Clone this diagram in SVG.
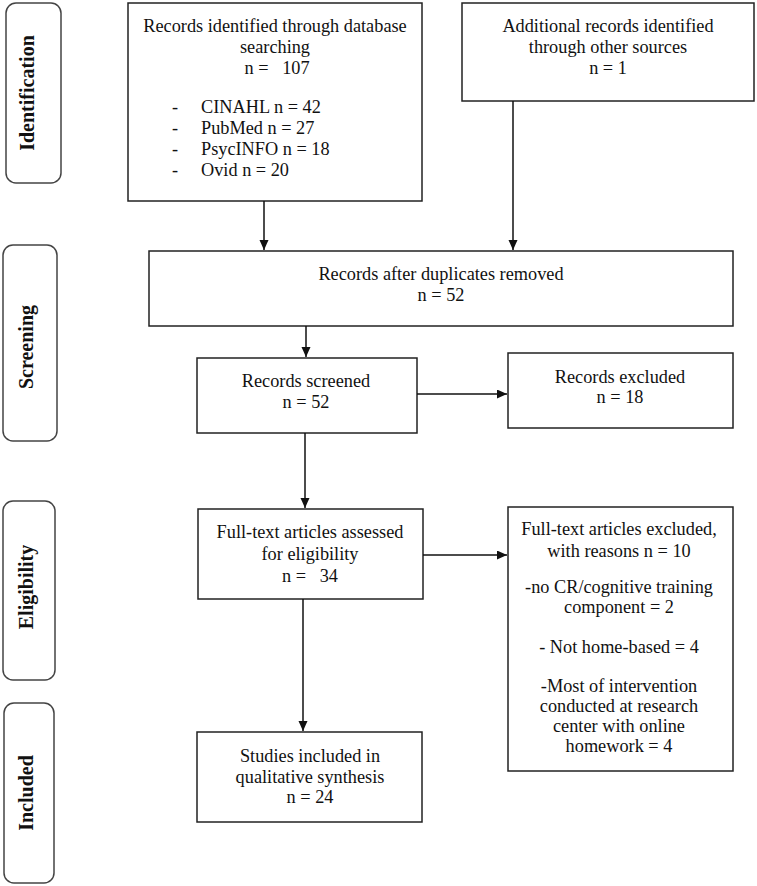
<svg xmlns="http://www.w3.org/2000/svg" width="757" height="886" viewBox="0 0 757 886">
<style>
.box{fill:#fff;stroke:#222;stroke-width:1.5}
.side{fill:#fff;stroke:#444;stroke-width:1.5}
.t{font-family:"Liberation Serif","Times New Roman",serif;font-size:18.3px;fill:#111;text-anchor:middle}
.tl{font-family:"Liberation Serif","Times New Roman",serif;font-size:18.3px;fill:#111}
.s{font-family:"Liberation Serif","Times New Roman",serif;font-size:20px;font-weight:bold;fill:#111;text-anchor:middle}
.c{stroke:#111;stroke-width:1.5;fill:none;marker-end:url(#ah)}
</style>
<defs>
<marker id="ah" markerWidth="11" markerHeight="10" refX="10" refY="4.5" orient="auto" markerUnits="userSpaceOnUse">
<path d="M0,0 L10,4.5 L0,9 Z" fill="#111"/>
</marker>
</defs>
<rect width="757" height="886" fill="#fff"/>
<g id="phase-identification"><rect class="side" x="6" y="3" width="55" height="180" rx="10"/><text class="s" transform="translate(34,93) rotate(-90)">Identification</text></g>
<g id="phase-screening"><rect class="side" x="3" y="245" width="54" height="196" rx="10"/><text class="s" transform="translate(33,347) rotate(-90)">Screening</text></g>
<g id="phase-eligibility"><rect class="side" x="3" y="501" width="52" height="179" rx="10"/><text class="s" transform="translate(33,587) rotate(-90)">Eligibility</text></g>
<g id="phase-included"><rect class="side" x="4" y="703" width="50" height="180" rx="10"/><text class="s" transform="translate(33,793) rotate(-90)">Included</text></g>

<g id="db-records"><rect class="box" x="128" y="3" width="294" height="198"/>
<text class="t" x="275" y="32">Records identified through database</text>
<text class="t" x="275" y="53">searching</text>
<text class="t" x="277" y="74" xml:space="preserve">n =   107</text>
<text class="tl" x="172" y="113">-</text><text class="tl" x="201" y="113">CINAHL n = 42</text>
<text class="tl" x="172" y="134">-</text><text class="tl" x="201" y="134">PubMed n = 27</text>
<text class="tl" x="172" y="155">-</text><text class="tl" x="201" y="155">PsycINFO n = 18</text>
<text class="tl" x="172" y="176">-</text><text class="tl" x="201" y="176">Ovid n = 20</text>
</g>
<g id="other-records"><rect class="box" x="462" y="3" width="292" height="98"/>
<text class="t" x="608" y="32">Additional records identified</text>
<text class="t" x="608" y="53">through other sources</text>
<text class="t" x="608" y="74">n = 1</text>
</g>
<g id="after-duplicates"><rect class="box" x="149" y="251" width="584" height="75"/>
<text class="t" x="441" y="280">Records after duplicates removed</text>
<text class="t" x="441" y="301">n = 52</text>
</g>
<g id="screened"><rect class="box" x="197" y="358" width="220" height="75"/>
<text class="t" x="306" y="387">Records screened</text>
<text class="t" x="306" y="408">n = 52</text>
</g>
<g id="excluded"><rect class="box" x="508" y="353" width="225" height="75"/>
<text class="t" x="620" y="383">Records excluded</text>
<text class="t" x="620" y="403">n = 18</text>
</g>
<g id="fulltext"><rect class="box" x="198" y="509" width="225" height="90"/>
<text class="t" x="310" y="538">Full-text articles assessed</text>
<text class="t" x="310" y="560">for eligibility</text>
<text class="t" x="310" y="582" xml:space="preserve">n =   34</text>
</g>
<g id="fulltext-excluded"><rect class="box" x="508" y="507" width="225" height="264"/>
<text class="t" x="619" y="535">Full-text articles excluded,</text>
<text class="t" x="619" y="557">with reasons n = 10</text>
<text class="t" x="619" y="593">-no CR/cognitive training</text>
<text class="t" x="619" y="613">component = 2</text>
<text class="t" x="619" y="653">- Not home-based = 4</text>
<text class="t" x="619" y="692">-Most of intervention</text>
<text class="t" x="619" y="712">conducted at research</text>
<text class="t" x="619" y="732">center with online</text>
<text class="t" x="619" y="752">homework = 4</text>
</g>
<g id="included-studies"><rect class="box" x="197" y="732" width="225" height="90"/>
<text class="t" x="310" y="762">Studies included in</text>
<text class="t" x="310" y="783">qualitative synthesis</text>
<text class="t" x="310" y="803">n = 24</text>
</g>

<g id="connectors">
<line class="c" x1="264" y1="201" x2="264" y2="250"/>
<line class="c" x1="513" y1="101" x2="513" y2="250"/>
<line class="c" x1="306" y1="326" x2="306" y2="357"/>
<line class="c" x1="417" y1="394" x2="507" y2="394"/>
<line class="c" x1="305" y1="433" x2="305" y2="508"/>
<line class="c" x1="423" y1="555" x2="507" y2="555"/>
<line class="c" x1="303" y1="599" x2="303" y2="731"/>
</g>
</svg>
